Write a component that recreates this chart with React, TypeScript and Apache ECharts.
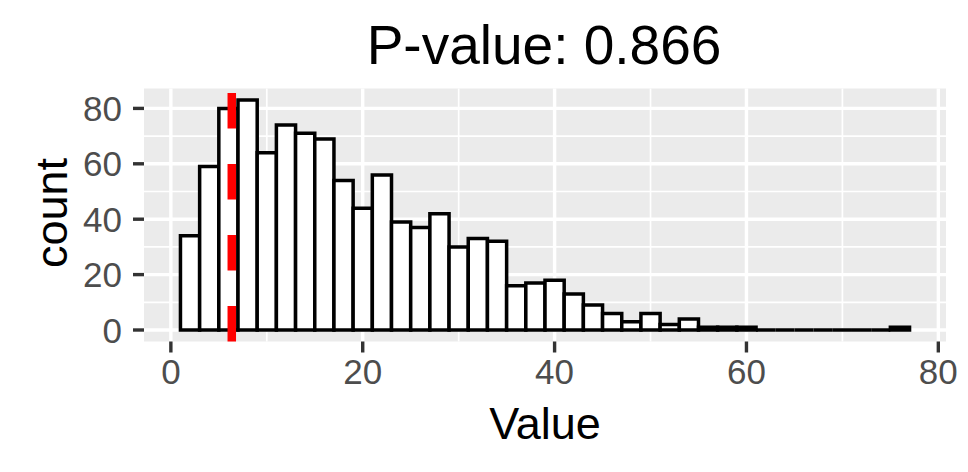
import { useEffect, useRef } from "react";
import * as echarts from "echarts";

// Histogram definition (bins of width 2 starting at 1)
const BIN_START = 1;
const BIN_WIDTH = 2;
const COUNTS = [
  34, 59, 80, 83, 64, 74, 71, 69, 54, 44,
  56, 39, 37, 42, 30, 33, 32, 16, 17, 18,
  13, 9, 6, 3, 6, 2, 4, 1, 1, 1,
  0, 0, 0, 0, 0, 0, 0, 1,
];
const OBSERVED = [6.35];
const X_TICKS = [0, 20, 40, 60, 80];
const X_MINOR = [10, 30, 50, 70];
const Y_TICKS = [0, 20, 40, 60, 80];
const Y_MINOR = [10, 30, 50, 70];
const X_RANGE = [-2.8, 80.8];
const Y_RANGE = [-4.15, 87.15];
const TITLE = "P-value: 0.866";
const X_NAME = "Value";
const Y_NAME = "count";

const FONT = "'Liberation Sans', Arial, Helvetica, sans-serif";
const TICK_LEN = 11;

export default function App() {
  const ref = useRef<HTMLDivElement>(null);

  useEffect(() => {
    document.body.style.margin = "0";
    if (!ref.current) return;
    const chart = echarts.init(ref.current, null, { renderer: "svg" });

    const bins = COUNTS.map((c, i) => [
      BIN_START + i * BIN_WIDTH,
      BIN_START + (i + 1) * BIN_WIDTH,
      c,
    ]);

    // kind: 0 = x minor, 1 = x major, 2 = y minor, 3 = y major
    const gridData: any[] = [];
    X_TICKS.forEach((v) => gridData.push([v, 0, 1]));
    X_MINOR.forEach((v) => gridData.push([v, 0, 0]));
    Y_TICKS.forEach((v) => gridData.push([0, v, 3]));
    Y_MINOR.forEach((v) => gridData.push([0, v, 2]));

    // kind: 0 = x tick, 1 = y tick
    const tickData: any[] = [];
    X_TICKS.forEach((v) => tickData.push([v, 0, 0]));
    Y_TICKS.forEach((v) => tickData.push([0, v, 1]));

    const option: any = {
      animation: false,
      grid: {
        left: 144,
        right: 22,
        top: 88.6,
        bottom: 130.5,
        show: true,
        backgroundColor: "#EBEBEB",
        borderWidth: 0,
      },
      xAxis: {
        type: "value",
        min: X_RANGE[0],
        max: X_RANGE[1],
        axisLine: { show: false },
        splitLine: { show: false },
        axisTick: { show: false },
        axisLabel: {
          customValues: X_TICKS,
          margin: 12,
          color: "#4D4D4D",
          fontSize: 35,
          fontFamily: FONT,
        },
      },
      yAxis: {
        type: "value",
        min: Y_RANGE[0],
        max: Y_RANGE[1],
        axisLine: { show: false },
        splitLine: { show: false },
        axisTick: { show: false },
        axisLabel: {
          customValues: Y_TICKS,
          margin: 22,
          color: "#4D4D4D",
          fontSize: 35,
          fontFamily: FONT,
        },
      },
      graphic: [
        {
          type: "text",
          x: 544,
          y: 45,
          style: {
            text: TITLE,
            font: `55px ${FONT}`,
            fill: "#000",
            align: "center",
            verticalAlign: "middle",
            textAlign: "center",
            textVerticalAlign: "middle",
          },
        },
        {
          type: "text",
          x: 545,
          y: 423,
          style: {
            text: X_NAME,
            font: `45px ${FONT}`,
            fill: "#000",
            align: "center",
            verticalAlign: "middle",
            textAlign: "center",
            textVerticalAlign: "middle",
          },
        },
        {
          type: "text",
          x: 51,
          y: 213,
          rotation: Math.PI / 2,
          style: {
            text: Y_NAME,
            font: `45px ${FONT}`,
            fill: "#000",
            align: "center",
            verticalAlign: "middle",
            textAlign: "center",
            textVerticalAlign: "middle",
          },
        },
      ],
      series: [
        {
          type: "custom",
          z: 1,
          silent: true,
          data: gridData,
          renderItem: (params: any, api: any) => {
            const cs = params.coordSys;
            const kind = api.value(2);
            if (kind <= 1) {
              const p = api.coord([api.value(0), Y_RANGE[0]]);
              return {
                type: "line",
                shape: { x1: p[0], y1: cs.y, x2: p[0], y2: cs.y + cs.height },
                style: { stroke: "#FFFFFF", lineWidth: kind === 1 ? 3.4 : 1.7 },
              };
            }
            const p = api.coord([X_RANGE[0], api.value(1)]);
            return {
              type: "line",
              shape: { x1: cs.x, y1: p[1], x2: cs.x + cs.width, y2: p[1] },
              style: { stroke: "#FFFFFF", lineWidth: kind === 3 ? 3.4 : 1.7 },
            };
          },
        },
        {
          type: "custom",
          z: 1,
          silent: true,
          clip: false,
          data: tickData,
          renderItem: (params: any, api: any) => {
            const cs = params.coordSys;
            const kind = api.value(2);
            if (kind === 0) {
              const p = api.coord([api.value(0), Y_RANGE[0]]);
              const yb = cs.y + cs.height;
              return {
                type: "line",
                shape: { x1: p[0], y1: yb, x2: p[0], y2: yb + TICK_LEN },
                style: { stroke: "#333333", lineWidth: 3.4 },
              };
            }
            const p = api.coord([X_RANGE[0], api.value(1)]);
            return {
              type: "line",
              shape: { x1: cs.x - TICK_LEN, y1: p[1], x2: cs.x, y2: p[1] },
              style: { stroke: "#333333", lineWidth: 3.4 },
            };
          },
        },
        {
          type: "custom",
          z: 2,
          silent: true,
          data: bins,
          encode: { x: [0, 1], y: 2 },
          renderItem: (_params: any, api: any) => {
            const top = api.coord([api.value(0), api.value(2)]);
            const bot = api.coord([api.value(1), 0]);
            return {
              type: "polygon",
              shape: {
                points: [
                  [top[0], bot[1]],
                  [top[0], top[1]],
                  [bot[0], top[1]],
                  [bot[0], bot[1]],
                ],
              },
              style: {
                fill: "#FFFFFF",
                stroke: "#000000",
                lineWidth: 3.5,
                lineJoin: "miter",
              },
            };
          },
        },
        {
          type: "custom",
          z: 3,
          silent: true,
          data: OBSERVED.map((v) => [v]),
          encode: { x: 0 },
          renderItem: (params: any, api: any) => {
            const cs = params.coordSys;
            const p = api.coord([api.value(0), 0]);
            return {
              type: "line",
              shape: { x1: p[0], y1: cs.y + cs.height, x2: p[0], y2: cs.y },
              style: {
                stroke: "#FF0000",
                lineWidth: 8.5,
                lineDash: [35.5, 35.5],
                lineCap: "butt",
              },
            };
          },
        },
      ],
    };

    chart.setOption(option);
    return () => chart.dispose();
  }, []);

  return <div ref={ref} style={{ width: 968, height: 472 }} />;
}
